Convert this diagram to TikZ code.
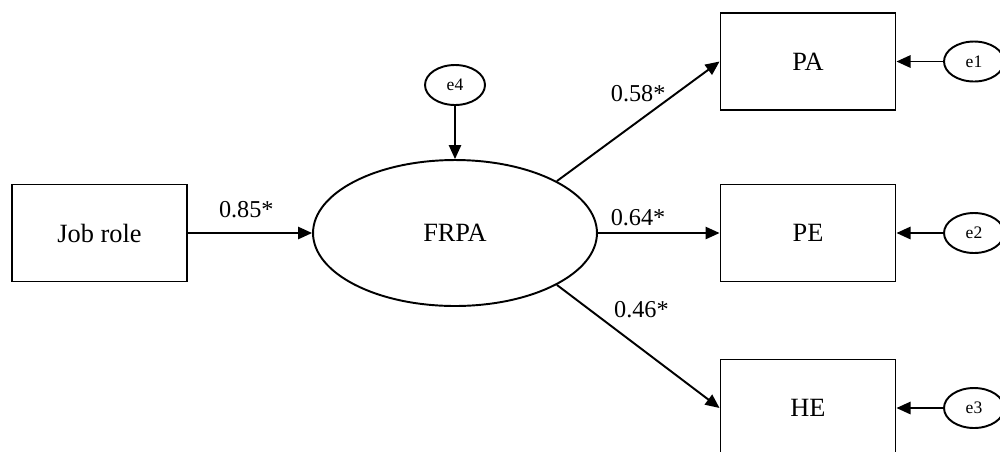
\documentclass[tikz,border=0pt]{standalone}
\usepackage{fontspec}
\setmainfont{Liberation Serif}
\usetikzlibrary{arrows.meta,shapes.geometric}

\begin{document}
\begin{tikzpicture}[x=0.02cm, y=-0.02cm, line width=1.1pt]
        \useasboundingbox (0,0) rectangle (1000,451);

        \begin{scope}[every node/.style = {rectangle, draw, minimum width=3.5cm, minimum height=1.94cm, font=\fontsize{15}{17}\selectfont}]
            \node (J) at (99.5, 233)  {Job role};
            \node (A) at (808, 61.5)  {PA};
            \node (E) at (808, 233)   {PE};
            \node (H) at (808, 408)   {HE};
        \end{scope}

        \node[ellipse, draw, minimum width=5.68cm, minimum height=2.92cm, font=\fontsize{15}{17}\selectfont] (F) at (455, 233) {FRPA};

        \begin{scope}[every node/.style = {ellipse, draw, minimum width=1.2cm, minimum height=0.8cm, inner sep=0pt, font=\fontsize{10}{12}\selectfont}]
            \node (e4) at (455, 85)  {e4};
            \node (e1) at (974, 61.5) {e1};
            \node (e2) at (974, 233) {e2};
            \node (e3) at (974, 408) {e3};
        \end{scope}

        \begin{scope}[>={Triangle[length=8pt, width=7pt]},
                every node/.style={font=\fontsize{13.8}{16}\selectfont},
                every edge/.style={draw, ->}]
                \path (J) edge node[above=4.5pt, pos=0.47] {0.85*} (F);
                \path (F.27) edge node[above=7pt, pos=0.5] {0.58*} (A.west);
                \path (F) edge node[above=0pt, pos=0.33] {0.64*} (E);
                \path (F.-27) edge node[above=14pt, pos=0.52] {0.46*} (H.west);
                \path (e4) edge (F);
                \path (e1) edge (A);
                \path (e2) edge (E);
                \path (e3) edge (H);
        \end{scope}
    \end{tikzpicture}
\end{document}
